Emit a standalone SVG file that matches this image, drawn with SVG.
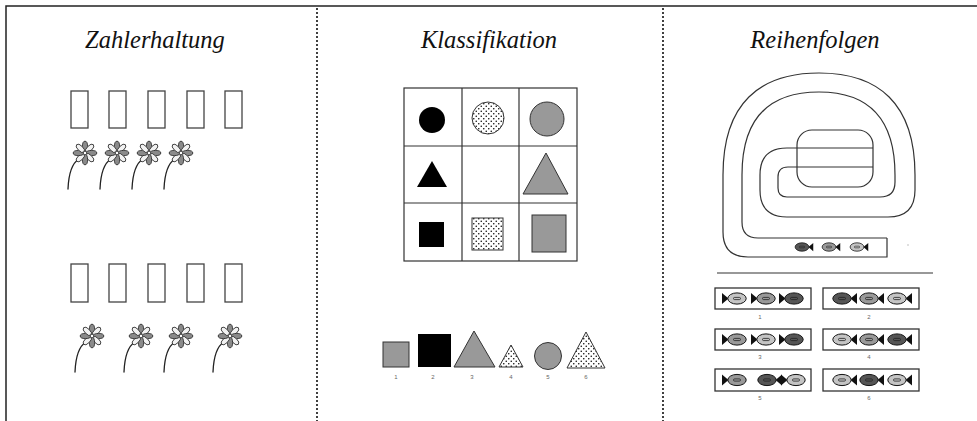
<svg xmlns="http://www.w3.org/2000/svg" xmlns:xlink="http://www.w3.org/1999/xlink" width="977" height="421" viewBox="0 0 977 421">
  <style>
    .title { font-family: "Liberation Serif", "Times New Roman", serif; font-style: italic; font-size: 24.5px; fill: #111; text-anchor: middle; }
    .num { font-family: "Liberation Sans", Arial, sans-serif; font-size: 6px; fill: #666; text-anchor: middle; }
    .frame { stroke: #222; stroke-width: 1.5; fill: none; }
    .divider { stroke: #111; stroke-width: 1.6; stroke-dasharray: 2 2; fill: none; }
    .slot { fill: none; stroke: #444; stroke-width: 1.3; }
    .stem { fill: none; stroke: #222; stroke-width: 1.3; stroke-linecap: round; }
    .grid { fill: none; stroke: #333; stroke-width: 1.2; }
    .black { fill: #000; }
    .gray { fill: #999; stroke: #333; stroke-width: 1; }
    .dotted { fill: url(#dots); stroke: #333; stroke-width: 1; }
    .track { fill: none; stroke: #333; stroke-width: 1.2; }
    .fishbox { fill: #fff; stroke: #333; stroke-width: 1.3; }
    .petal-dark { fill: #8a8a8a; stroke: #222; stroke-width: 0.8; }
    .petal-light { fill: #f2f2f2; stroke: #222; stroke-width: 0.8; }
  </style>
  <defs>
    <pattern id="dots" width="5" height="5" patternUnits="userSpaceOnUse">
      <rect width="5" height="5" fill="#fff"/>
      <circle cx="1.25" cy="1.25" r="0.8" fill="#111"/>
      <circle cx="3.75" cy="3.75" r="0.8" fill="#111"/>
    </pattern>
    <ellipse id="petal" cx="0" cy="-6.6" rx="2.6" ry="5.2"/>
    <!-- daisy head, centred on 0,0 -->
    <g id="blossom">
      <use xlink:href="#petal" class="petal-dark"/>
      <use xlink:href="#petal" class="petal-light" transform="rotate(45)"/>
      <use xlink:href="#petal" class="petal-dark" transform="rotate(90)"/>
      <use xlink:href="#petal" class="petal-light" transform="rotate(135)"/>
      <use xlink:href="#petal" class="petal-dark" transform="rotate(180)"/>
      <use xlink:href="#petal" class="petal-light" transform="rotate(225)"/>
      <use xlink:href="#petal" class="petal-dark" transform="rotate(270)"/>
      <use xlink:href="#petal" class="petal-light" transform="rotate(315)"/>
      <circle r="1.7" fill="#fff" stroke="#222" stroke-width="0.6"/>
    </g>
    <!-- flower with stem, head at 0,0 -->
    <g id="flower">
      <path class="stem" d="M-6,6 Q-16,12 -17,36"/>
      <use xlink:href="#blossom"/>
    </g>
    <!-- fish facing right, body centred on 0,0; body colour comes from the use element -->
    <g id="fish">
      <path d="M-8.5,0 L-15,-5.5 L-15,5.5 Z" fill="#111"/>
      <ellipse rx="9.2" ry="5.6" stroke="#111" stroke-width="1"/>
      <rect x="-3.5" y="-1.1" width="7" height="2.2" rx="1.1" stroke="#222" stroke-width="0.8"/>
    </g>
  </defs>

  <rect width="977" height="421" fill="#fff"/>

  <!-- frame and column dividers -->
  <g id="frame">
    <path class="frame" d="M6,421 L6,6 L977,6"/>
    <line class="divider" x1="317" y1="8" x2="317" y2="421"/>
    <line class="divider" x1="663" y1="8" x2="663" y2="421"/>
  </g>

  <!-- column 1: Zahlerhaltung -->
  <g id="zahlerhaltung">
    <text class="title" x="155" y="48">Zahlerhaltung</text>
    <g id="slots-top">
      <rect class="slot" x="71" y="91" width="17" height="37"/>
      <rect class="slot" x="109" y="91" width="17" height="37"/>
      <rect class="slot" x="148" y="91" width="17" height="37"/>
      <rect class="slot" x="187" y="91" width="17" height="37"/>
      <rect class="slot" x="225" y="91" width="17" height="37"/>
    </g>
    <g id="flowers-top">
      <use xlink:href="#flower" x="85" y="153"/>
      <use xlink:href="#flower" x="117" y="153"/>
      <use xlink:href="#flower" x="149" y="153"/>
      <use xlink:href="#flower" x="181" y="153"/>
    </g>
    <g id="slots-bottom">
      <rect class="slot" x="71" y="264" width="17" height="38"/>
      <rect class="slot" x="109" y="264" width="17" height="38"/>
      <rect class="slot" x="148" y="264" width="17" height="38"/>
      <rect class="slot" x="187" y="264" width="17" height="38"/>
      <rect class="slot" x="225" y="264" width="17" height="38"/>
    </g>
    <g id="flowers-bottom">
      <use xlink:href="#flower" x="92" y="336"/>
      <use xlink:href="#flower" x="141" y="336"/>
      <use xlink:href="#flower" x="181" y="336"/>
      <use xlink:href="#flower" x="230" y="336"/>
    </g>
  </g>

  <!-- column 2: Klassifikation -->
  <g id="klassifikation">
    <text class="title" x="489" y="48">Klassifikation</text>
    <g id="matrix">
      <rect class="grid" x="404" y="88" width="173" height="173"/>
      <line class="grid" x1="462" y1="88" x2="462" y2="261"/>
      <line class="grid" x1="519" y1="88" x2="519" y2="261"/>
      <line class="grid" x1="404" y1="146" x2="577" y2="146"/>
      <line class="grid" x1="404" y1="203" x2="577" y2="203"/>
      <circle class="black" cx="432" cy="120" r="13"/>
      <circle class="dotted" cx="488" cy="118" r="16"/>
      <circle class="gray" cx="547" cy="119" r="17"/>
      <polygon class="black" points="432,161 447,187 417,187"/>
      <polygon class="gray" points="546,153 568,194 523,194"/>
      <rect class="black" x="419" y="222" width="25" height="25"/>
      <rect class="dotted" x="472" y="218" width="31" height="32"/>
      <rect class="gray" x="532" y="215" width="34" height="37"/>
    </g>
    <g id="choices">
      <rect class="gray" x="383" y="342" width="26" height="25"/>
      <rect class="black" x="418" y="334" width="33" height="33"/>
      <polygon class="gray" points="474,331 495,367 454,367"/>
      <polygon class="dotted" points="511,345 523,367 499,367"/>
      <circle class="gray" cx="548" cy="356" r="13.5"/>
      <polygon class="dotted" points="586,332 605,368 567,368"/>
      <text class="num" x="396" y="379">1</text>
      <text class="num" x="433" y="379">2</text>
      <text class="num" x="472" y="379">3</text>
      <text class="num" x="511" y="379">4</text>
      <text class="num" x="548" y="379">5</text>
      <text class="num" x="586" y="379">6</text>
    </g>
  </g>

  <!-- column 3: Reihenfolgen -->
  <g id="reihenfolgen">
    <text class="title" x="815" y="48">Reihenfolgen</text>
    <g id="spiral">
      <path class="track" d="M887,238 L887,257 L748,257 Q723,257 723,232 L723,175 C723,103 760,73 819,73 C878,73 915,103 915,175 L915,190 Q915,217 888,217 L787,217 Q760,217 760,190 L760,175 Q760,148 787,148 L873,148"/>
      <path class="track" d="M887,238 L758,238 Q742,238 742,222 L742,175 C742,113 775,92 819,92 C863,92 895,113 895,175 L895,182 Q895,197 880,197 L787,197 Q778,197 778,188 L778,177 Q778,167 788,167 L873,167"/>
      <rect class="track" x="797" y="130" width="76" height="57" rx="15"/>
      <g transform="translate(802,247) scale(-0.75,0.75)"><use xlink:href="#fish" fill="#555"/></g>
      <g transform="translate(829,247) scale(-0.75,0.75)"><use xlink:href="#fish" fill="#999"/></g>
      <g transform="translate(857,247) scale(-0.75,0.75)"><use xlink:href="#fish" fill="#c4c4c4"/></g>
      <circle cx="908" cy="245" r="0.7" fill="#aaa"/>
    </g>
    <line x1="717" y1="273" x2="933" y2="273" stroke="#333" stroke-width="1.2"/>
    <g id="option-1">
      <rect class="fishbox" x="715" y="288" width="96" height="21"/>
      <use xlink:href="#fish" x="737" y="298.5" fill="#c4c4c4"/>
      <use xlink:href="#fish" x="766" y="298.5" fill="#999"/>
      <use xlink:href="#fish" x="794" y="298.5" fill="#555"/>
      <text class="num" x="760" y="319">1</text>
    </g>
    <g id="option-2">
      <rect class="fishbox" x="823" y="288" width="96" height="21"/>
      <g transform="translate(842,298.5) scale(-1,1)"><use xlink:href="#fish" fill="#555"/></g>
      <g transform="translate(869,298.5) scale(-1,1)"><use xlink:href="#fish" fill="#999"/></g>
      <g transform="translate(897,298.5) scale(-1,1)"><use xlink:href="#fish" fill="#c4c4c4"/></g>
      <text class="num" x="869" y="319">2</text>
    </g>
    <g id="option-3">
      <rect class="fishbox" x="715" y="329" width="96" height="21"/>
      <use xlink:href="#fish" x="737" y="339.5" fill="#999"/>
      <use xlink:href="#fish" x="766" y="339.5" fill="#c4c4c4"/>
      <use xlink:href="#fish" x="794" y="339.5" fill="#555"/>
      <text class="num" x="760" y="359">3</text>
    </g>
    <g id="option-4">
      <rect class="fishbox" x="823" y="329" width="96" height="21"/>
      <g transform="translate(842,339.5) scale(-1,1)"><use xlink:href="#fish" fill="#c4c4c4"/></g>
      <g transform="translate(869,339.5) scale(-1,1)"><use xlink:href="#fish" fill="#999"/></g>
      <g transform="translate(897,339.5) scale(-1,1)"><use xlink:href="#fish" fill="#555"/></g>
      <text class="num" x="869" y="359">4</text>
    </g>
    <g id="option-5">
      <rect class="fishbox" x="715" y="369" width="96" height="22"/>
      <use xlink:href="#fish" x="737" y="380" fill="#999"/>
      <g transform="translate(767,380) scale(-1,1)"><use xlink:href="#fish" fill="#555"/></g>
      <use xlink:href="#fish" x="796" y="380" fill="#c4c4c4"/>
      <text class="num" x="760" y="400">5</text>
    </g>
    <g id="option-6">
      <rect class="fishbox" x="823" y="369" width="96" height="22"/>
      <g transform="translate(842,380) scale(-1,1)"><use xlink:href="#fish" fill="#c4c4c4"/></g>
      <g transform="translate(869,380) scale(-1,1)"><use xlink:href="#fish" fill="#555"/></g>
      <g transform="translate(897,380) scale(-1,1)"><use xlink:href="#fish" fill="#c4c4c4"/></g>
      <text class="num" x="869" y="400">6</text>
    </g>
  </g>
</svg>
